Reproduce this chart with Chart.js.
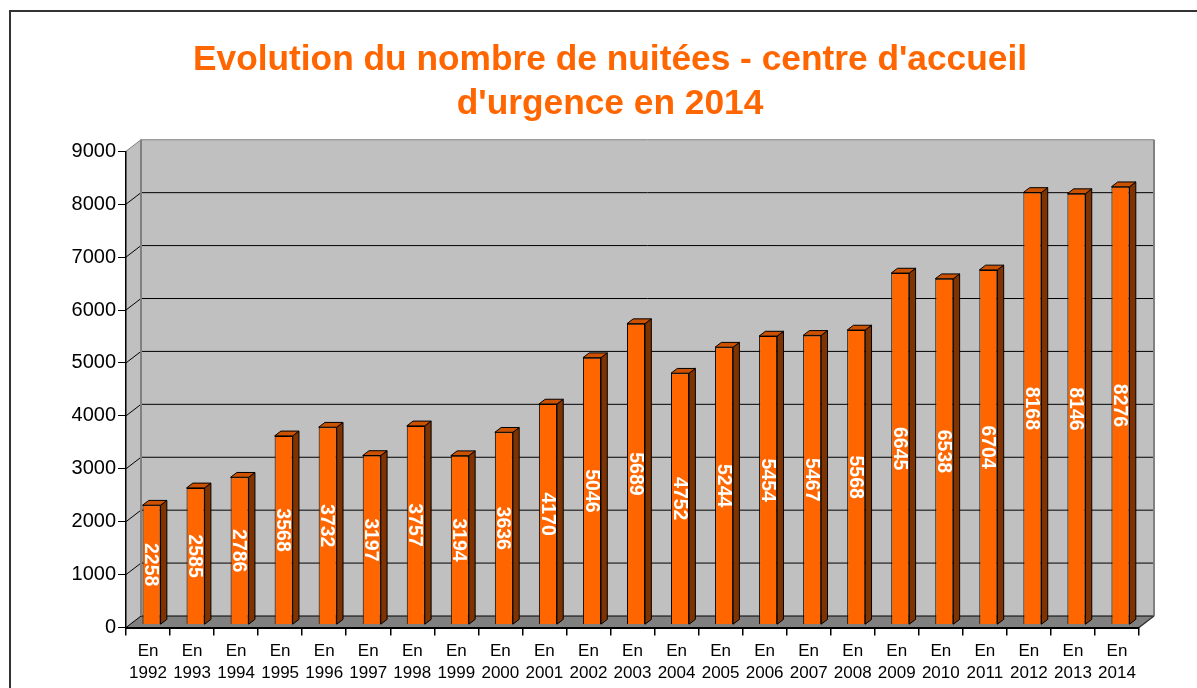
<!DOCTYPE html>
<html>
<head>
<meta charset="utf-8">
<script src="https://cdn.jsdelivr.net/npm/chart.js@4.4.0/dist/chart.umd.min.js"></script>
<style>
html, body { margin: 0; padding: 0; background: #fff; overflow: hidden; }
</style>
</head>
<body>
<canvas id="myChart" width="1197" height="688"></canvas>
<script>
var annees = ['1992', '1993', '1994', '1995', '1996', '1997', '1998', '1999', '2000', '2001', '2002', '2003',
              '2004', '2005', '2006', '2007', '2008', '2009', '2010', '2011', '2012', '2013', '2014'];
var nuitees = [2258, 2585, 2786, 3568, 3732, 3197, 3757, 3194, 3636, 4170, 5046, 5689,
               4752, 5244, 5454, 5467, 5568, 6645, 6538, 6704, 8168, 8146, 8276];
var graduations = [0, 1000, 2000, 3000, 4000, 5000, 6000, 7000, 8000, 9000];
var titre = ["Evolution du nombre de nuitées - centre d'accueil", "d'urgence en 2014"];

Chart.defaults.font.family = "'Liberation Sans', Arial, sans-serif";

// profondeur du decor 3D (murs) et des barres
var PROF = { dx: 15, dy: -11.5 };
var BARRE = { dx: 3.5, dy: -2.8, px: 6.3, py: -4.8 };

var decor3d = {
    id: 'decor3d',
    beforeDraw: function (chart) {
        var ctx = chart.ctx, a = chart.chartArea, ech = chart.scales.y;
        var l = a.left, r = a.right, t = a.top, b = a.bottom, dx = PROF.dx, dy = PROF.dy;
        ctx.save();
        ctx.fillStyle = '#fff';
        ctx.fillRect(0, 0, chart.width, chart.height);

        // cadre
        ctx.strokeStyle = '#333';
        ctx.lineWidth = 2;
        ctx.beginPath();
        ctx.moveTo(10, chart.height + 5);
        ctx.lineTo(10, 11);
        ctx.lineTo(chart.width + 5, 11);
        ctx.stroke();

        // murs
        ctx.fillStyle = '#c0c0c0';
        ctx.beginPath();
        ctx.moveTo(l, b);
        ctx.lineTo(l, t);
        ctx.lineTo(l + dx, t + dy);
        ctx.lineTo(r + dx, t + dy);
        ctx.lineTo(r + dx, b + dy);
        ctx.lineTo(l + dx, b + dy);
        ctx.closePath();
        ctx.fill();

        // sol
        ctx.fillStyle = '#808080';
        ctx.beginPath();
        ctx.moveTo(l, b);
        ctx.lineTo(r, b);
        ctx.lineTo(r + dx, b + dy);
        ctx.lineTo(l + dx, b + dy);
        ctx.closePath();
        ctx.fill();

        // quadrillage
        ctx.lineWidth = 1;
        ech.ticks.forEach(function (tk) {
            var py = ech.getPixelForValue(tk.value);
            ctx.strokeStyle = tk.value == graduations[graduations.length - 1] ? '#808080' : '#000';
            ctx.beginPath();
            ctx.moveTo(l, py);
            ctx.lineTo(l + dx, py + dy);
            ctx.lineTo(r + dx, py + dy);
            ctx.stroke();
        });

        // bords des murs
        ctx.strokeStyle = '#808080';
        ctx.lineWidth = 2;
        ctx.beginPath();
        ctx.moveTo(l + dx, b + dy);
        ctx.lineTo(l + dx, t + dy);
        ctx.moveTo(r + dx, t + dy);
        ctx.lineTo(r + dx, b + dy);
        ctx.stroke();

        ctx.strokeStyle = '#333';
        ctx.lineWidth = 1.5;
        ctx.beginPath();
        ctx.moveTo(r, b);
        ctx.lineTo(r + dx, b + dy);
        ctx.stroke();
        ctx.restore();
    },

    beforeDatasetsDraw: function (chart) {
        chart.ctx.save();
        chart.ctx.translate(BARRE.dx, BARRE.dy);
    },

    afterDatasetsDraw: function (chart) {
        var ctx = chart.ctx;
        var meta = chart.getDatasetMeta(0);
        ctx.lineWidth = 1;
        ctx.strokeStyle = '#000';
        meta.data.forEach(function (bar, i) {
            var w = bar.width, x0 = bar.x - w / 2, x1 = bar.x + w / 2;
            var yt = bar.y, yb = bar.base, px = BARRE.px, py = BARRE.py;
            // cote
            ctx.fillStyle = '#7f3300';
            ctx.beginPath();
            ctx.moveTo(x1, yb);
            ctx.lineTo(x1, yt);
            ctx.lineTo(x1 + px, yt + py);
            ctx.lineTo(x1 + px, yb + py);
            ctx.closePath();
            ctx.fill();
            ctx.stroke();
            // dessus
            ctx.fillStyle = '#cc5200';
            ctx.beginPath();
            ctx.moveTo(x0, yt);
            ctx.lineTo(x1, yt);
            ctx.lineTo(x1 + px, yt + py);
            ctx.lineTo(x0 + px, yt + py);
            ctx.closePath();
            ctx.fill();
            ctx.stroke();
            // etiquette
            ctx.save();
            ctx.translate(bar.x, (yt + yb) / 2);
            ctx.rotate(Math.PI / 2);
            ctx.font = "bold 19.5px 'Liberation Sans', Arial, sans-serif";
            ctx.fillStyle = '#fff';
            ctx.textAlign = 'center';
            ctx.textBaseline = 'middle';
            ctx.fillText(String(nuitees[i]), 0, 1);
            ctx.restore();
        });
        ctx.restore();
    }
};

var ctx = document.getElementById('myChart');
var graphique = new Chart(ctx, {
    type: 'bar',
    data: {
        labels: annees,
        datasets: [{
            data: nuitees,
            backgroundColor: '#ff6600',
            borderColor: '#000',
            borderWidth: 1,
            barPercentage: 0.41,
            categoryPercentage: 1,
            clip: false
        }]
    },
    options: {
        responsive: false,
        animation: false,
        layout: { padding: { left: 23, right: 0, top: 0, bottom: 0 } },
        plugins: {
            legend: { display: false },
            tooltip: { enabled: false },
            title: {
                display: true,
                text: titre,
                color: '#ff6600',
                font: { size: 35.3, weight: 'bold', lineHeight: 1.25 },
                padding: { top: 38, bottom: 25 }
            }
        },
        scales: {
            x: {
                grid: { drawOnChartArea: false, color: '#000', tickLength: 8, offset: true, lineWidth: 1.5 },
                border: { color: '#000', width: 2 },
                ticks: {
                    color: '#000',
                    font: { size: 17, lineHeight: 1.28 },
                    padding: 5,
                    maxRotation: 0,
                    autoSkip: false,
                    callback: function (v, i) { return ['En', annees[i]]; }
                },
                afterFit: function (s) { s.height = 60.5; }
            },
            y: {
                min: graduations[0],
                max: graduations[graduations.length - 1],
                grid: { drawOnChartArea: false, color: '#000', tickLength: 8 },
                border: { color: '#000', width: 1.5 },
                ticks: {
                    stepSize: 1000,
                    color: '#000',
                    font: { size: 20 },
                    padding: 2,
                    callback: function (v) { return String(v); }
                },
                afterFit: function (s) { s.width = 103; }
            },
            // marge droite (laisse la place du decor 3D)
            marge: {
                type: 'linear',
                position: 'right',
                grid: { display: false },
                border: { display: false },
                ticks: { display: false },
                afterFit: function (s) { s.width = 58; }
            }
        }
    },
    plugins: [decor3d]
});
</script>
</body>
</html>
